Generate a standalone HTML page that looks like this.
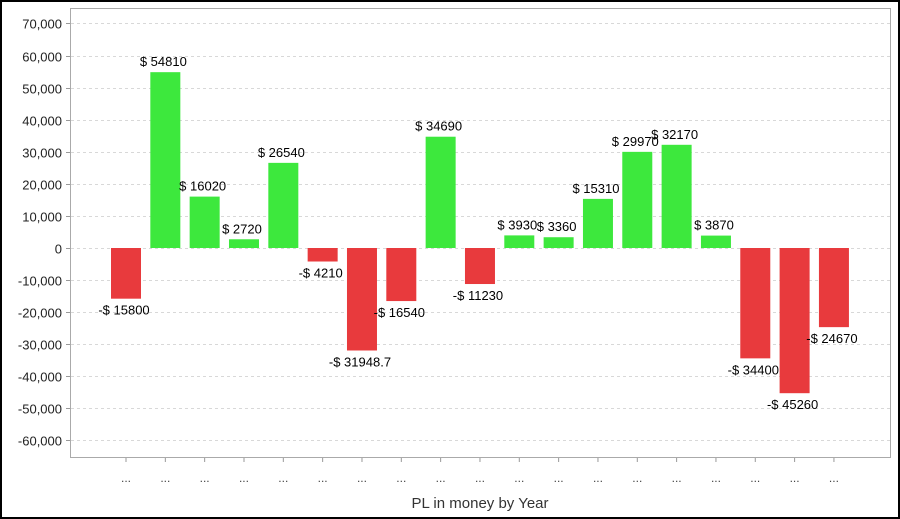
<!DOCTYPE html>
<html><head><meta charset="utf-8"><style>
html,body{margin:0;padding:0;background:#fff;}
svg{display:block;font-family:"Liberation Sans",Arial,sans-serif;}
</style></head><body>
<svg width="900" height="519" viewBox="0 0 900 519" xmlns="http://www.w3.org/2000/svg">
<rect x="1" y="1" width="898" height="517" fill="#fff" stroke="#000" stroke-width="2"/>
<g id="grid" stroke="#d8d8d8" stroke-dasharray="3,3" stroke-width="1"></g>
<g id="ylab" font-size="13" fill="#222" text-anchor="end"></g>
<g id="bars"></g>
<g id="vlab" font-size="13" fill="#000" text-anchor="middle"></g>
<g id="xlab" font-size="12" fill="#444" text-anchor="middle"></g>
<rect x="70.5" y="8.5" width="820" height="449" fill="none" stroke="#aaa" stroke-width="1"/>
<text x="480" y="508" font-size="15" fill="#333" text-anchor="middle">PL in money by Year</text>
</svg>
<script>
var ns="http://www.w3.org/2000/svg";
function el(p,t,a,txt){var e=document.createElementNS(ns,t);for(var k in a)e.setAttribute(k,a[k]);if(txt!=null)e.textContent=txt;document.getElementById(p).appendChild(e);}
function Y(v){return 248-v*0.003208;}
for(var v=70000;v>=-60000;v-=10000){var y=Math.round(Y(v))+0.5;
el("grid","line",{x1:71,x2:890,y1:y,y2:y});
el("grid","line",{x1:66,x2:70,y1:y,y2:y,"stroke-dasharray":"none",stroke:"#999"});
el("ylab","text",{x:62,y:y+5},v.toLocaleString("en-US"));}
var d=[-15800,54810,16020,2720,26540,-4210,-31948.7,-16540,34690,-11230,3930,3360,15310,29970,32170,3870,-34400,-45260,-24670];
d.forEach(function(v,i){var cx=126+i*39.33,y0=Y(0),y1=Y(v);
el("bars","rect",{x:cx-15,y:Math.min(y0,y1),width:30,height:Math.abs(y1-y0),fill:v>=0?"#3de83d":"#e83a3d"});
var lab=v>=0?"$ "+v:"-$ "+(-v);
el("vlab","text",{x:cx-2,y:v>=0?y1-6:y1+16},lab);
el("grid","line",{x1:cx,x2:cx,y1:458,y2:462,"stroke-dasharray":"none",stroke:"#999"});
el("xlab","text",{x:cx,y:482},"...");});
</script>
</body></html>
